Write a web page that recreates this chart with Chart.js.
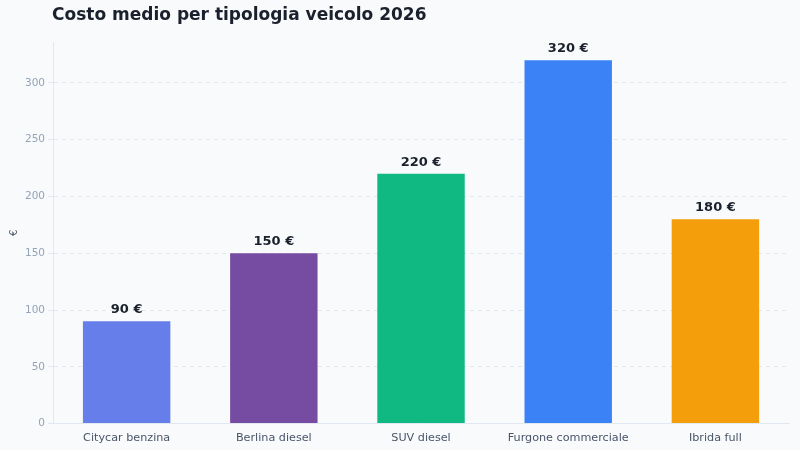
<!DOCTYPE html>
<html>
<head>
<meta charset="utf-8">
<script src="https://cdn.jsdelivr.net/npm/chart.js@4.4.1/dist/chart.umd.min.js"></script>
<style>
    html, body { margin: 0; padding: 0; background: #f8fafc; }
    #wrap { width: 800px; height: 450px; }
</style>
</head>
<body>
<div id="wrap"><canvas id="chart"></canvas></div>
<script>
const categories = ['Citycar benzina', 'Berlina diesel', 'SUV diesel', 'Furgone commerciale', 'Ibrida full'];
const costs = [90, 150, 220, 320, 180];
const barColors = ['#667eea', '#764ba2', '#10b981', '#3b82f6', '#f59e0b'];
const yTicks = [0, 50, 100, 150, 200, 250, 300];
const chartTitle = 'Costo medio per tipologia veicolo 2026';

// draws "N €" above every bar, and the title aligned with the plot area
const valueLabels = {
    id: 'valueLabels',
    afterDatasetsDraw(chart) {
        const ctx = chart.ctx;
        const meta = chart.getDatasetMeta(0);
        ctx.save();
        ctx.font = 'bold 13px "DejaVu Sans"';
        ctx.fillStyle = '#1a202c';
        ctx.textAlign = 'center';
        ctx.textBaseline = 'bottom';
        meta.data.forEach((bar, i) => {
            ctx.fillText(costs[i] + ' €', bar.x, bar.y - 5);
        });

        ctx.font = 'bold 17px "DejaVu Sans"';
        ctx.textAlign = 'left';
        ctx.textBaseline = 'middle';
        ctx.fillText(chartTitle, chart.chartArea.left - 1, 16);
        ctx.restore();
    }
};

new Chart(document.getElementById('chart'), {
    type: 'bar',
    data: {
        labels: categories,
        datasets: [{
            label: 'Costo medio',
            data: costs,
            backgroundColor: barColors,
            borderWidth: 0,
            barPercentage: 0.9,
            categoryPercentage: 0.66
        }]
    },
    options: {
        responsive: true,
        maintainAspectRatio: false,
        animation: false,
        layout: { padding: { left: 8, right: 11, top: 42, bottom: 2 } },
        plugins: {
            legend: { display: false },
            tooltip: { enabled: false },
            title: { display: false }
        },
        scales: {
            x: {
                grid: { display: false, tickLength: 5, color: '#e2e8f0' },
                border: { color: '#e2e8f0' },
                ticks: { color: '#4a5568', font: { family: 'DejaVu Sans', size: 11.2 } }
            },
            y: {
                min: 0,
                max: 336,
                afterBuildTicks: (scale) => {
                    scale.ticks = yTicks.map(v => ({ value: v }));
                },
                grid: { color: '#e2e8f0', tickLength: 5 },
                border: { color: '#e2e8f0', dash: [4, 4] },
                ticks: { color: '#94a3b8', font: { family: 'DejaVu Sans', size: 10.5 } },
                title: {
                    display: true,
                    text: '€',
                    color: '#4a5568',
                    font: { family: 'DejaVu Sans', size: 10 },
                    padding: { top: 0, bottom: 2 }
                }
            }
        }
    },
    plugins: [valueLabels]
});
</script>
</body>
</html>
